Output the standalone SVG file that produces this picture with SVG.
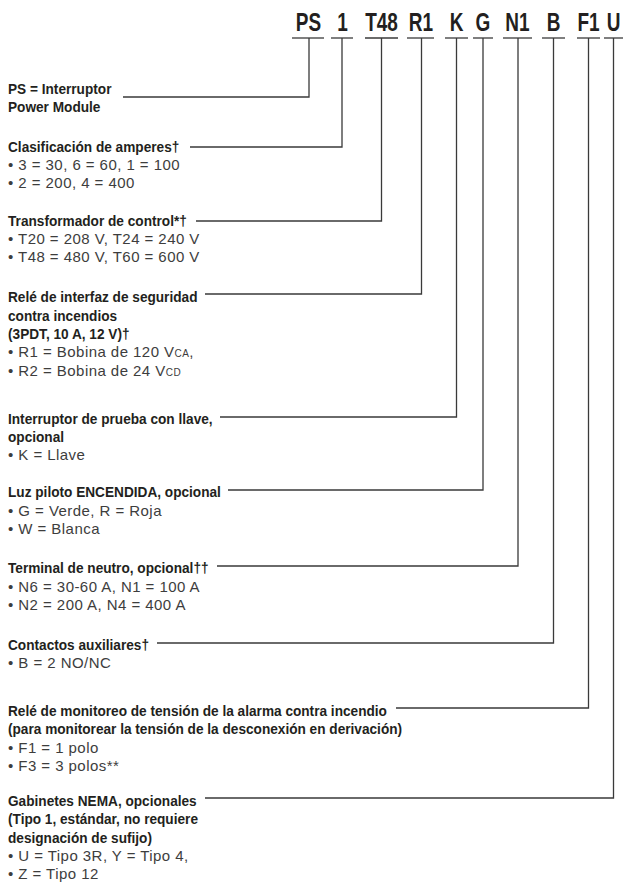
<svg xmlns="http://www.w3.org/2000/svg" width="624" height="883" viewBox="0 0 624 883">
<style>
.code{font-family:"Liberation Sans",Arial,sans-serif;font-weight:bold;font-size:25px;fill:#231f20;text-anchor:middle}
.h{font-family:"Liberation Sans",Arial,sans-serif;font-weight:bold;font-size:15px;fill:#231f20}
.b{font-family:"Liberation Sans",Arial,sans-serif;font-size:15px;fill:#3d3d3d;letter-spacing:0.45px}
.sm{font-size:10px}
.ul{stroke:#3a3a3a;stroke-width:1.3;fill:none}
.ln{stroke:#3a3a3a;stroke-width:1.3;fill:none}
</style>
<rect width="624" height="883" fill="#fff"/>
<g id="codes">
<g id="c-PS"><text class="code" transform="translate(308.5 31) scale(0.76 1)">PS</text><line class="ul" x1="292" y1="38" x2="324" y2="38"/></g>
<g id="c-1"><text class="code" transform="translate(342.5 31) scale(0.76 1)">1</text><line class="ul" x1="331" y1="38" x2="353" y2="38"/></g>
<g id="c-T48"><text class="code" transform="translate(381.5 31) scale(0.76 1)">T48</text><line class="ul" x1="365" y1="38" x2="398" y2="38"/></g>
<g id="c-R1"><text class="code" transform="translate(421 31) scale(0.76 1)">R1</text><line class="ul" x1="407" y1="38" x2="434" y2="38"/></g>
<g id="c-K"><text class="code" transform="translate(456.5 31) scale(0.76 1)">K</text><line class="ul" x1="445" y1="38" x2="468" y2="38"/></g>
<g id="c-G"><text class="code" transform="translate(483 31) scale(0.76 1)">G</text><line class="ul" x1="473" y1="38" x2="493" y2="38"/></g>
<g id="c-N1"><text class="code" transform="translate(517.5 31) scale(0.76 1)">N1</text><line class="ul" x1="503" y1="38" x2="532" y2="38"/></g>
<g id="c-B"><text class="code" transform="translate(553.5 31) scale(0.76 1)">B</text><line class="ul" x1="542" y1="38" x2="565" y2="38"/></g>
<g id="c-F1"><text class="code" transform="translate(588.5 31) scale(0.76 1)">F1</text><line class="ul" x1="577" y1="38" x2="600" y2="38"/></g>
<g id="c-U"><text class="code" transform="translate(613.5 31) scale(0.76 1)">U</text><line class="ul" x1="604" y1="38" x2="623" y2="38"/></g>
</g>
<g id="connectors">
<polyline class="ln" points="309,38 309,97 123,97"/>
<polyline class="ln" points="342,38 342,147 190,147"/>
<polyline class="ln" points="381.5,38 381.5,221 196,221"/>
<polyline class="ln" points="421.5,38 421.5,294 205,294"/>
<polyline class="ln" points="456.5,38 456.5,417 220,417"/>
<polyline class="ln" points="483,38 483,490 228,490"/>
<polyline class="ln" points="518,38 518,566 217,566"/>
<polyline class="ln" points="553.5,38 553.5,643 157,643"/>
<polyline class="ln" points="588.5,38 588.5,708 396,708"/>
<polyline class="ln" points="613.5,38 613.5,798 205,798"/>
</g>
<g id="n-ps">
<g transform="translate(8 0) scale(0.91 1)"><text class="h" y="94">PS = Interruptor</text><text class="h" y="112">Power Module</text></g>
</g>
<g id="n-amp">
<g transform="translate(8 0) scale(0.91 1)"><text class="h" y="152">Clasificación de amperes†</text></g>
<text class="b" x="8" y="170">• 3 = 30, 6 = 60, 1 = 100</text>
<text class="b" x="8" y="188">• 2 = 200, 4 = 400</text>
</g>
<g id="n-trans">
<g transform="translate(8 0) scale(0.91 1)"><text class="h" y="226">Transformador de control*†</text></g>
<text class="b" x="8" y="244">• T20 = 208 V, T24 = 240 V</text>
<text class="b" x="8" y="262">• T48 = 480 V, T60 = 600 V</text>
</g>
<g id="n-rele">
<g transform="translate(8 0) scale(0.91 1)"><text class="h" y="302">Relé de interfaz de seguridad</text><text class="h" y="321">contra incendios</text><text class="h" y="339">(3PDT, 10 A, 12 V)†</text></g>
<text class="b" x="8" y="357">• R1 = Bobina de 120 V<tspan class="sm">CA</tspan>,</text>
<text class="b" x="8" y="376">• R2 = Bobina de 24 V<tspan class="sm">CD</tspan></text>
</g>
<g id="n-llave">
<g transform="translate(8 0) scale(0.91 1)"><text class="h" y="424">Interruptor de prueba con llave,</text><text class="h" y="442">opcional</text></g>
<text class="b" x="8" y="460">• K = Llave</text>
</g>
<g id="n-luz">
<g transform="translate(8 0) scale(0.91 1)"><text class="h" y="497">Luz piloto ENCENDIDA, opcional</text></g>
<text class="b" x="8" y="516">• G = Verde, R = Roja</text>
<text class="b" x="8" y="534">• W = Blanca</text>
</g>
<g id="n-neutro">
<g transform="translate(8 0) scale(0.91 1)"><text class="h" y="573">Terminal de neutro, opcional††</text></g>
<text class="b" x="8" y="592">• N6 = 30-60 A, N1 = 100 A</text>
<text class="b" x="8" y="610">• N2 = 200 A, N4 = 400 A</text>
</g>
<g id="n-aux">
<g transform="translate(8 0) scale(0.91 1)"><text class="h" y="650">Contactos auxiliares†</text></g>
<text class="b" x="8" y="668">• B = 2 NO/NC</text>
</g>
<g id="n-monitor">
<g transform="translate(8 0) scale(0.91 1)"><text class="h" y="716">Relé de monitoreo de tensión de la alarma contra incendio</text><text class="h" y="734">(para monitorear la tensión de la desconexión en derivación)</text></g>
<text class="b" x="8" y="753">• F1 = 1 polo</text>
<text class="b" x="8" y="771">• F3 = 3 polos**</text>
</g>
<g id="n-nema">
<g transform="translate(8 0) scale(0.91 1)"><text class="h" y="806">Gabinetes NEMA, opcionales</text><text class="h" y="824">(Tipo 1, estándar, no requiere</text><text class="h" y="843">designación de sufijo)</text></g>
<text class="b" x="8" y="861">• U = Tipo 3R, Y = Tipo 4,</text>
<text class="b" x="8" y="879">• Z = Tipo 12</text>
</g>
</svg>
